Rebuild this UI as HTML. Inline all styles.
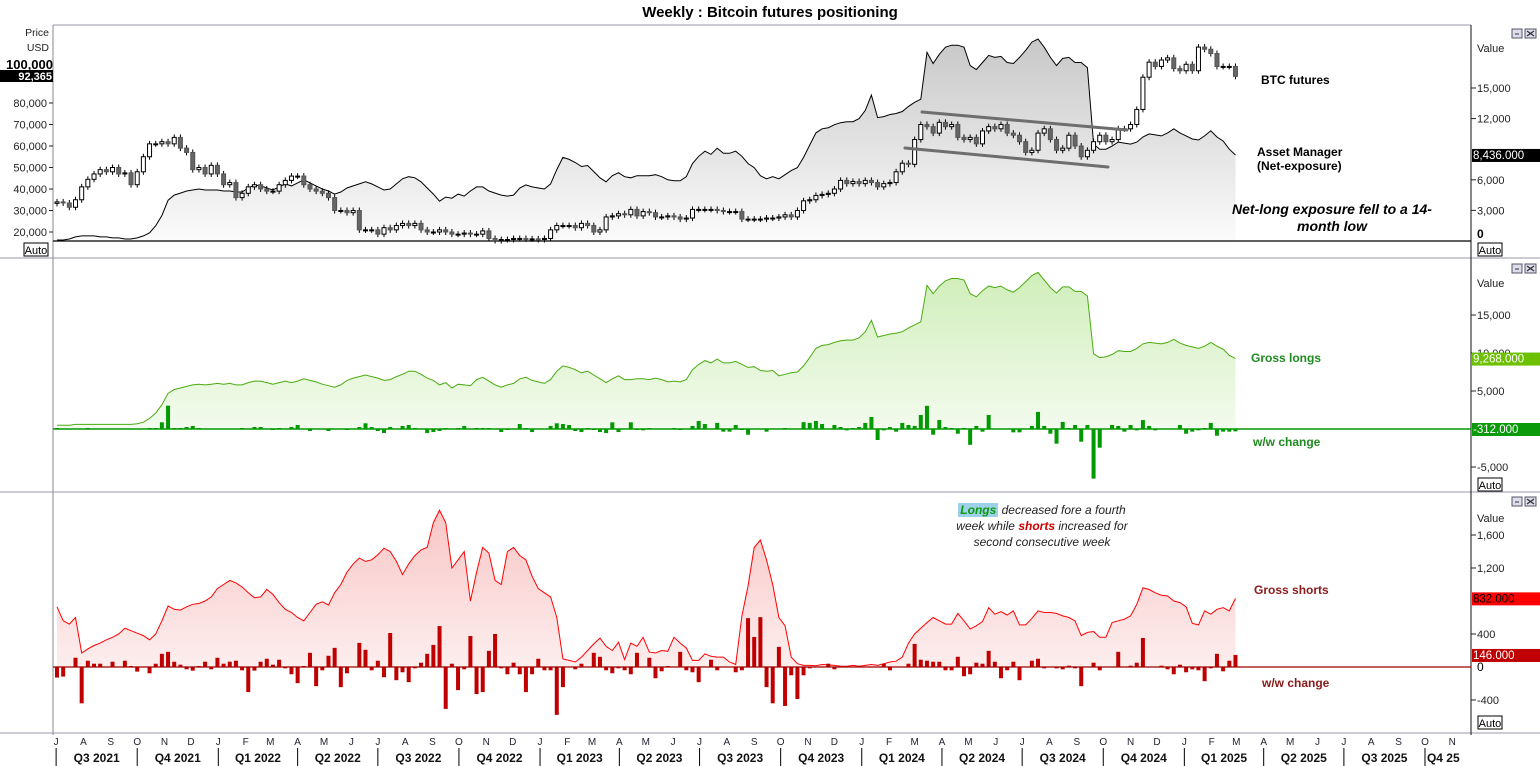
<!DOCTYPE html>
<html><head><meta charset="utf-8">
<style>
html,body{margin:0;padding:0;background:#fff;}
body{width:1540px;height:766px;overflow:hidden;position:relative;font-family:"Liberation Sans",Arial,sans-serif;}
svg{position:absolute;left:0;top:0;}
.ann{position:absolute;font-family:"Liberation Sans",sans-serif;}
</style></head>
<body>
<svg id="c" width="1540" height="766" viewBox="0 0 1540 766">
<defs>
<linearGradient id="gNet" gradientUnits="userSpaceOnUse" x1="0" y1="40" x2="0" y2="241"><stop offset="0" stop-color="#c8c8c8"/><stop offset="1" stop-color="#fbfbfb"/></linearGradient>
<linearGradient id="gLong" gradientUnits="userSpaceOnUse" x1="0" y1="270" x2="0" y2="429"><stop offset="0" stop-color="#cfeeb8"/><stop offset="1" stop-color="#f3fbee"/></linearGradient>
<linearGradient id="gShort" gradientUnits="userSpaceOnUse" x1="0" y1="505" x2="0" y2="667"><stop offset="0" stop-color="#f9c4c4"/><stop offset="1" stop-color="#fdeeee"/></linearGradient>
</defs>
<text x="770" y="17" text-anchor="middle" font-size="15" font-weight="bold" fill="#000">Weekly : Bitcoin futures positioning</text>
<g id="frame"></g>
<g id="p1"></g><g id="p2"></g><g id="p3"></g><g id="axes"></g>
</svg>
<div class="ann" style="left:1261px;top:73px;font-size:12px;font-weight:bold;">BTC futures</div>
<div class="ann" style="left:1257px;top:145px;font-size:12px;font-weight:bold;line-height:14px;">Asset Manager<br>(Net-exposure)</div>
<div class="ann" style="left:1222px;top:201px;width:220px;text-align:center;font-size:14px;font-weight:bold;font-style:italic;line-height:17px;">Net-long exposure fell to a 14-<br>month low</div>
<div class="ann" style="left:1251px;top:351px;font-size:12px;font-weight:bold;color:#1f8a1f;">Gross longs</div>
<div class="ann" style="left:1253px;top:435px;font-size:12px;font-weight:bold;color:#1f8a1f;">w/w change</div>
<div class="ann" style="left:1254px;top:583px;font-size:12px;font-weight:bold;color:#8b1a1a;">Gross shorts</div>
<div class="ann" style="left:1262px;top:676px;font-size:12px;font-weight:bold;color:#8b1a1a;">w/w change</div>
<div class="ann" style="left:932px;top:502px;width:220px;text-align:center;font-size:12px;font-style:italic;line-height:16px;color:#222;"><span style="background:#9fd0ea;color:#0a9a0a;font-weight:bold;padding:0 2px;">Longs</span> decreased fore a fourth<br>week while <b style="color:#d00000;">shorts</b> increased for<br>second consecutive week</div>
<script>
// ---------- DATA ----------
const btcCloseK = [34,33.5,31.5,35,41, 44.5,47,49,48, 50,47,47.5,42, 48,55,61,61,62, 61,64,59,57, 49,50,47,51,47,
42,43,36,38, 41,42,40,39, 39,42,44,46, 46,42,40,39,38, 36,30,30,29, 30,21,21,21, 19,22,21,23,24, 23,24,21,20, 20,21,20,19,19, 19.5,19,19,20.5, 17,16,16.5,16.5, 17,17,16.8,16.8,16.5,
17,21,23,23, 23,22,24,23, 20,21,27,27.5,28.5, 28,30.5,27.5,29.5, 29,27,27,27.5, 27,26,26.5,30.5,30.5, 30.5,30.5,30,29.5, 29.5,29.5,26,26, 26,26,26.5,26.5,27, 28,27,30,34.5, 35,37,37.5,38, 40,44,42.5,43.5,42.5,
44,43,41,42.5, 43,48,52,51.5, 63,70,69,66,71, 69,70,64,63, 64,61,67,69,68, 70,66,65,62, 57,58,66,68, 63,58,59,65,60, 55,58,62,65, 62,63,68,68, 70,77,92,99,97, 100,101,96,95,
98,95,106,105,103, 97,97,97,92.4];
const netExposureK = [0.1,0.1,0.2,0.4,0.5,0.5,0.5,0.4,0.4,0.3,0.3,0.2,0.2,0.3,0.5,
0.8,1.5,2.5,4.0,4.5, 4.7,4.9,5.0,5.1,5.0,5.0,5.0,4.9,4.9,4.8, 4.8,5.2,5.5,5.4,5.2,5.0,5.3,5.6,5.4,5.7,
6.0,5.7,5.4,5.1,4.9,4.6,4.8,5.2,5.4,5.6, 5.8,5.6,5.3,5.0,5.1,5.6,6.1,6.3,6.2,5.8, 5.2,4.6,3.9,4.3,4.2,4.6,4.4,4.9,5.3,5.3,
4.9,4.7,4.5,4.4,4.5,5.2,5.5,5.3,5.2,5.1, 5.6,7.0,8.2,8.0,7.7,7.3,7.4,6.8,6.2,5.8, 6.4,6.7,6.3,6.2,6.4,6.4,6.4,6.5,6.3,6.0,
5.9,5.9,6.3,7.6,8.3,8.8,8.5,9.1,8.6,8.6, 8.8,8.3,7.6,7.2,6.4,6.1,6.3,6.1,6.5,6.9, 7.2,8.2,9.4,10.6,11.0,11.1,11.4,11.6,11.7,11.7,
12.0,12.8,14.3,12.1,12.2,12.4,12.5,12.7,13.2,13.6, 13.9,18.5,17.4,18.3,19.0,19.2,19.2,19.0,17.2,16.8, 17.5,18.2,18.0,18.1,17.5,17.4,18.0,18.7,19.5,19.8,
19.0,18.0,17.2,17.9,18.0,17.5,17.5,17.0,9.5,9.0, 9.0,9.3,9.7,9.6,9.5,9.7,10.2,10.5,10.4,10.3, 10.6,11.0,10.6,10.3,10.0,9.9,10.3,10.8,10.2,9.8, 9.0,8.436];
const grossLongsK = [0.5,0.5,0.5,0.6,0.6,0.6,0.6,0.6,0.6,0.6,0.6,0.6,0.6,0.7,0.9,
1.4,2.1,3.2,4.7,5.2, 5.4,5.6,5.8,5.9,5.8,5.9,6.0,5.9,6.0,5.8, 5.8,6.1,6.3,6.3,6.1,5.9,6.1,6.3,6.1,6.3,
6.6,6.4,6.2,5.9,5.7,5.5,5.8,6.4,6.7,6.9, 7.1,6.9,6.7,6.4,6.5,6.9,7.2,7.6,7.6,7.2, 6.7,6.4,5.8,6.1,5.4,5.9,5.8,5.7,6.5,6.8,
6.3,5.8,5.5,5.8,6.0,6.6,6.8,6.4,6.2,6.0, 6.5,7.6,8.3,8.1,7.8,7.4,7.6,7.1,6.6,6.1, 6.6,7.0,6.5,6.5,6.6,6.6,6.5,6.7,6.5,6.2,
6.3,6.2,6.5,7.8,8.5,9.0,8.7,9.2,8.7,8.7, 8.9,8.5,8.1,8.2,7.7,7.6,7.7,7.0,7.2,7.4, 7.5,8.3,9.4,10.6,11.0,11.1,11.4,11.6,11.7,11.7,
12.0,12.8,14.3,12.1,12.3,12.5,12.6,12.8,13.3,13.7, 14.1,18.9,17.8,18.8,19.5,19.8,19.8,19.6,17.8,17.4, 18.2,18.8,18.6,18.8,18.3,18.0,18.6,19.4,20.2,20.6,
19.6,18.6,17.9,18.7,18.7,18.1,18.1,17.5,9.9,9.4, 9.5,9.8,10.3,10.2,10.2,10.6,11.2,11.4,11.3,11.2, 11.4,11.8,11.3,11.0,10.8,10.6,10.9,11.4,10.9,10.5, 9.7,9.268];
const longsChange = [130,0,0,0,0,130,0,0,0,0,0,0,0,0,0,130,130,880,3070,130,
130,264,400,130,0,0,0,0,0,0, 130,0,264,264,0,-88,130,0,264,530, 0,-264,0,0,-264,0,0,-130,0,264,
750,264,-264,-530,264,0,400,530,130,0, -530,-400,-264,130,0,130,400,0,130,130, 130,0,-400,-130,0,660,130,-400,0,0,
400,750,660,530,-264,-400,130,-130,-400,-530, 880,-400,0,880,-130,-176,130,0,0,0, 130,-130,0,400,1050,660,0,800,-350,-350,
530,-130,-750,0,0,-350,0,0,130,0, 0,900,800,1050,660,0,530,264,-176,130, 264,800,1580,-1450,-176,264,-350,800,530,400,
1850,3050,-750,1180,264,130,-620,130,-2080,400, -350,1850,0,0,0,-440,-440,0,400,2250, 400,-620,-1930,930,130,530,-1670,530,-6530,-2460,
0,530,400,-350,530,-176,1180,400,-176,0, 0,0,530,-620,-350,-176,130,800,-880,-350, -350,-312];
const grossShorts = [730,560,520,600,170,220,260,290,330,360,400,470,440,410,380,330,400,560,740,700,
690,730,760,770,800,850,950,1000,1050,1020, 970,900,840,850,940,880,780,700,660,600, 560,660,760,790,750,900,1000,1150,1250,1320,
1280,1300,1360,1440,1400,1280,1120,1250,1350,1420, 1450,1750,1900,1750,1200,1300,1400,800,1150,1450, 1380,1050,1000,1400,1450,1350,1300,1100,950,900,
850,600,100,80,60,120,200,280,350,250, 200,300,90,290,250,360,180,170,200,190, 360,290,230,80,80,160,130,120,120,60,
30,620,980,1450,1540,1300,1000,600,500,120, 40,20,20,15,30,25,20,10,10,20, 10,20,30,20,40,60,70,120,290,400,
470,540,600,560,520,520,650,560,460,500, 550,720,640,670,630,680,510,510,590,680, 660,660,650,620,600,560,380,420,430,360,
360,540,560,580,620,760,960,940,900,870, 860,800,780,730,530,510,680,640,700,720, 680,832];
const shortsChange = [-128,-116,0,112,-440,76,40,40,0,64,0,76,12,-56,0,-76,40,160,184,64,
28,-28,-44,12,64,-28,112,40,64,76, -40,-304,-44,64,100,28,88,-16,-88,-196, 12,172,-232,-40,136,232,-244,-76,0,292,
208,-40,76,-124,412,-160,-64,-184,-16,52, 160,268,496,-508,40,-280,-28,376,-328,-304, 196,400,-16,-88,52,-88,-304,-88,100,-40,
-40,-580,-244,0,-28,40,0,172,124,-40, -76,-16,-40,-88,172,0,112,-136,-52,12, 0,184,-40,-64,-184,0,88,-40,0,0,
-64,-40,592,364,604,-244,-440,244,-472,-100, -388,-100,-16,0,0,40,-28,0,0,0, 0,0,0,0,40,-40,0,0,40,280,
88,76,64,64,-40,-40,124,-112,-88,52, 40,196,64,-136,-40,64,-160,0,76,100, -16,0,-16,-28,16,-16,-232,0,52,-40,
0,0,184,0,16,52,352,0,0,16, -28,-88,28,-64,-28,-40,-172,-16,160,-52, 76,146];
const priceTicks = [20000,30000,40000,50000,60000,70000,80000];
const netTicks = [3000,6000,12000,15000];
const longTicks = [15000,10000,5000,-5000];
const shortTicks = [1600,1200,400,-400];
const monthLetters = ['J','F','M','A','M','J','J','A','S','O','N','D'];

// ---------- SCALES ----------
const X0 = 57, WK = 6.17;
const xW = i => X0 + i*WK;
const startDate = Date.UTC(2021,6,2);
const xDate = t => X0 + (t-startDate)/(7*864e5)*WK;
const yPrice = p => 232 - (p-20000)*0.00215;
const yNet = v => 241 - v*10.2;
const yLong = v => 429 - v*7.6;
const yLongChg = v => 429 - v*0.0076;
const yShort = v => 667 - v*0.0825;
const NS = 'http://www.w3.org/2000/svg';
function mk(parent, tag, attrs, text){
  const e = document.createElementNS(NS, tag);
  for (const k in attrs) e.setAttribute(k, attrs[k]);
  if (text !== undefined) e.textContent = text;
  parent.appendChild(e); return e;
}
const fmt3 = v => v.toLocaleString('en-US',{minimumFractionDigits:3,maximumFractionDigits:3});
const frame = document.getElementById('frame');
const p1 = document.getElementById('p1'), p2 = document.getElementById('p2'), p3 = document.getElementById('p3'), ax = document.getElementById('axes');

// ---------- FRAME ----------
let el;
el = mk(frame,'line',{x1:53,y1:25,x2:1471,y2:25,stroke:'#9a9aa8'});


for (const yy of [258,492,733]) {
  el = mk(frame,'line',{x1:0,y1:yy,x2:1540,y2:yy,stroke:'#9a9aa8'});
  
  
}
el = mk(frame,'line',{x1:53,y1:25,x2:53,y2:735,stroke:'#888'});


el = mk(frame,'line',{x1:1471,y1:25,x2:1471,y2:735,stroke:'#111'});



function areaPath(vals, yf, base){
  let d = 'M'+xW(0)+','+base;
  vals.forEach((v,i)=>{ d += ' L'+xW(i).toFixed(1)+','+yf(v).toFixed(1); });
  d += ' L'+xW(vals.length-1).toFixed(1)+','+base+' Z';
  return d;
}
function linePath(vals, yf){
  return vals.map((v,i)=>(i?'L':'M')+xW(i).toFixed(1)+','+yf(v).toFixed(1)).join(' ');
}

// ---------- PANEL 1 ----------
el = mk(p1,'path',{d:areaPath(netExposureK,yNet,241),fill:'url(#gNet)'});


el = mk(p1,'line',{x1:53,y1:241,x2:1471,y2:241,stroke:'#000','stroke-width':1.2});


el = mk(p1,'path',{d:linePath(netExposureK,yNet),fill:'none',stroke:'#000','stroke-width':1});


btcCloseK.forEach((c,i)=>{
  const o = i>0 ? btcCloseK[i-1] : c*0.98;
  const yo = yPrice(o*1000), yc = yPrice(c*1000);
  const top = Math.min(yo,yc), bot = Math.max(yo,yc);
  const x = xW(i);
  const w = mk(p1,'line',{x1:x,y1:top-3,x2:x,y2:bot+3,stroke:'#000','stroke-width':1});
  
  
  const up = c >= o;
  const b = mk(p1,'rect',{x:x-2,y:top,width:4,height:Math.max(1,bot-top),fill:up?'#fff':'#666',stroke:up?'#000':'#555','stroke-width':1});
  
  
});
el = mk(p1,'line',{x1:922,y1:112,x2:1127,y2:130,stroke:'#6e6e6e','stroke-width':3,'stroke-linecap':'round'});


el = mk(p1,'line',{x1:905,y1:148,x2:1108,y2:167,stroke:'#6e6e6e','stroke-width':3,'stroke-linecap':'round'});



// left price axis
el = mk(ax,'text',{x:49,y:36,'text-anchor':'end','font-size':10.5,fill:'#222'},'Price');


el = mk(ax,'text',{x:49,y:51,'text-anchor':'end','font-size':10.5,fill:'#222'},'USD');


priceTicks.forEach(p=>{
  const y = yPrice(p);
  el = mk(ax,'line',{x1:49,y1:y,x2:53,y2:y,stroke:'#222'});
  
  
  el = mk(ax,'text',{x:47,y:y+4,'text-anchor':'end','font-size':11,fill:'#222'},p.toLocaleString('en-US'));
  
  
});
el = mk(ax,'text',{x:53,y:69,'text-anchor':'end','font-size':13,'font-weight':'bold',fill:'#000'},'100,000');


el = mk(ax,'rect',{x:0,y:70,width:53,height:12,fill:'#000'});


el = mk(ax,'text',{x:52,y:80,'text-anchor':'end','font-size':11,'font-weight':'bold',fill:'#fff'},'92,365');


function autoBox(x,y,name){
  const r = mk(ax,'rect',{x:x,y:y,width:24,height:13,fill:'#fff',stroke:'#000'});
  
  
  const t = mk(ax,'text',{x:x+12,y:y+11,'text-anchor':'middle','font-size':11,fill:'#000'},'Auto');
  
  
}
autoBox(24,243,'price-auto-button');
autoBox(1478,243,'net-auto-button');
autoBox(1478,478,'longs-auto-button');
autoBox(1478,716,'shorts-auto-button');
function icons(y,name){
  const a = mk(ax,'rect',{x:1512,y:y,width:10,height:9,fill:'#dde',stroke:'#556'});
  
  
  const b = mk(ax,'rect',{x:1525,y:y,width:11,height:9,fill:'#dde',stroke:'#556'});
  
  
  const c = mk(ax,'path',{d:`M${1527},${y+2} L${1534},${y+7} M${1534},${y+2} L${1527},${y+7}`,stroke:'#333','stroke-width':1.3});
  
  
  const m = mk(ax,'line',{x1:1515,y1:y+5,x2:1519,y2:y+5,stroke:'#333'});
  
  
}
icons(29,'panel1');icons(264,'panel2');icons(497,'panel3');
function rightTicks(ticks, yf, fmt){
  ticks.forEach(v=>{
    const y = yf(v);
    const l = mk(ax,'line',{x1:1471,y1:y,x2:1476,y2:y,stroke:'#222'});
    
    
    const t = mk(ax,'text',{x:1477,y:y+4,'font-size':11,fill:'#222'},fmt(v));
    
    
  });
}
const fmt = v => v.toLocaleString('en-US');
function valTitle(y){
  const t = mk(ax,'text',{x:1477,y:y,'font-size':11,fill:'#222'},'Value');
  
  
}
valTitle(52); valTitle(287); valTitle(522);
rightTicks(netTicks, v=>yNet(v/1000), fmt);
el = mk(ax,'text',{x:1477,y:238,'font-size':12,'font-weight':'bold',fill:'#000'},'0');


function valueBox(y,txt,bg,fg,name){
  const r = mk(ax,'rect',{x:1472,y:y-6,width:68,height:13,fill:bg});
  
  
  const t = mk(ax,'text',{x:1473,y:y+4,'font-size':11.5,fill:fg},txt);
  
  
}
const lastNet = netExposureK[netExposureK.length-1];
valueBox(yNet(lastNet), fmt3(lastNet*1000), '#000','#fff','net-last-value-box');

// ---------- PANEL 2 ----------
el = mk(p2,'path',{d:areaPath(grossLongsK,yLong,429),fill:'url(#gLong)'});


el = mk(p2,'path',{d:linePath(grossLongsK,yLong),fill:'none',stroke:'#4aac10','stroke-width':1});


longsChange.forEach((v,i)=>{
  if (!v) return;
  const y0 = yLongChg(0), y1 = yLongChg(v);
  const b = mk(p2,'rect',{x:xW(i)-2,y:Math.min(y0,y1),width:4,height:Math.max(1,Math.abs(y1-y0)),fill:'#009a00'});
  
  
});
el = mk(p2,'line',{x1:53,y1:429,x2:1471,y2:429,stroke:'#009a00','stroke-width':1.5});


rightTicks(longTicks, v=>yLong(v/1000), fmt);
const lastLong = grossLongsK[grossLongsK.length-1];
valueBox(yLong(lastLong), fmt3(lastLong*1000),'#6cc000','#fff','longs-last-value-box');
valueBox(429, fmt3(longsChange[longsChange.length-1]),'#0a9a0a','#fff','longs-change-last-box');

// ---------- PANEL 3 ----------
el = mk(p3,'path',{d:areaPath(grossShorts,yShort,667),fill:'url(#gShort)'});


el = mk(p3,'path',{d:linePath(grossShorts,yShort),fill:'none',stroke:'#ff0000','stroke-width':1});


shortsChange.forEach((v,i)=>{
  if (!v) return;
  const y0 = yShort(0), y1 = yShort(v);
  const b = mk(p3,'rect',{x:xW(i)-2,y:Math.min(y0,y1),width:4,height:Math.max(1,Math.abs(y1-y0)),fill:'#c00000'});
  
  
});
el = mk(p3,'line',{x1:53,y1:667,x2:1471,y2:667,stroke:'#a00000','stroke-width':1.3});


rightTicks(shortTicks, yShort, fmt);
el = mk(ax,'text',{x:1477,y:671,'font-size':12,fill:'#000'},'0');


valueBox(yShort(grossShorts[grossShorts.length-1]), fmt3(grossShorts[grossShorts.length-1]),'#ff0000','#000','shorts-last-value-box');
valueBox(yShort(shortsChange[shortsChange.length-1]), fmt3(shortsChange[shortsChange.length-1]),'#c00000','#fff','shorts-change-last-box');

// ---------- TIME AXIS ----------
for (let m = 0; m < 53; m++) {
  const yr = 2021 + Math.floor((6+m)/12), mo = (6+m)%12;
  const x = xDate(Date.UTC(yr,mo,1));
  const t = mk(ax,'text',{x:x,y:745,'text-anchor':'middle','font-size':10,fill:'#223'},monthLetters[mo]);
  
  
  if (mo % 3 === 0) {
    const s = mk(ax,'line',{x1:x,y1:748,x2:x,y2:766,stroke:'#000'});
    
    
    const q = mo/3+1;
    const xn = xDate(Date.UTC(mo===9?yr+1:yr,(mo+3)%12,1));
    const last = (yr===2025 && q===4);
    const lbl = last ? 'Q4 25' : 'Q'+q+' '+yr;
    const qt = mk(ax,'text',{x:last?x+2:(x+xn)/2,y:762,'text-anchor':last?'start':'middle','font-size':12,'font-weight':'bold',fill:'#111'},lbl);
    
    
  }
}
</script>
</body></html>
